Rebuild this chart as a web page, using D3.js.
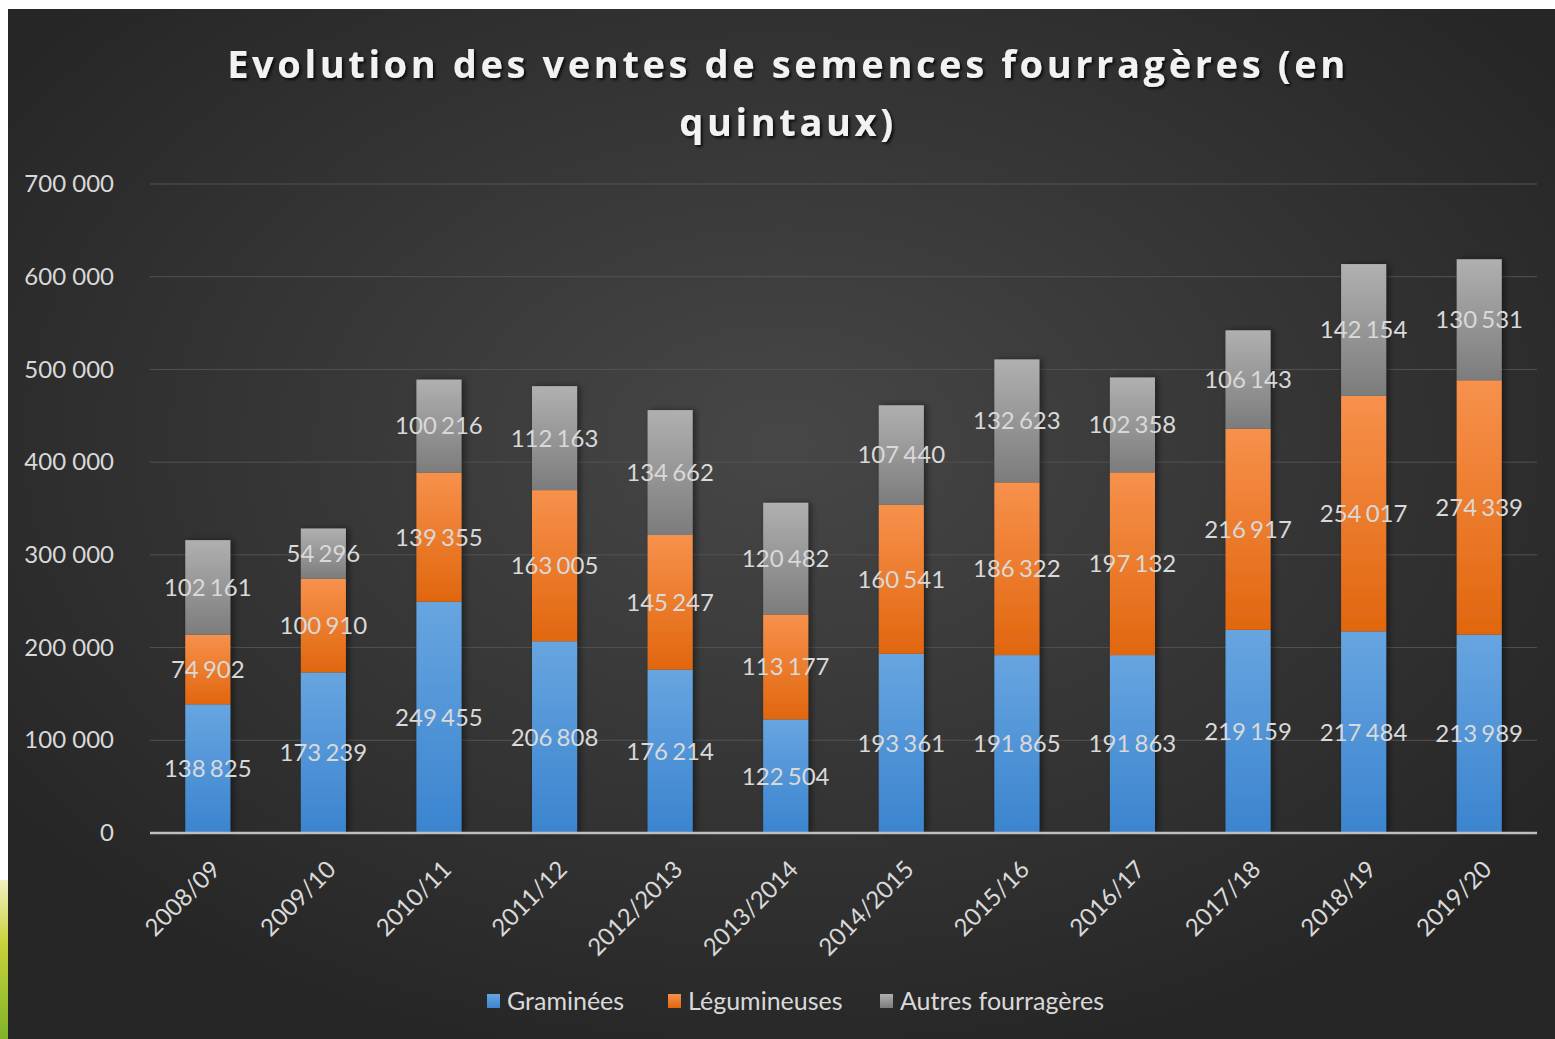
<!DOCTYPE html>
<html>
<head>
<meta charset="utf-8">
<script src="https://cdn.jsdelivr.net/npm/d3@7"></script>
<style>
  body { margin: 0; background: #ffffff; }
  #chart { width: 1555px; height: 1039px; }
</style>
</head>
<body>
<div id="chart"></div>
<script>
// Data
var years = ["2008/09", "2009/10", "2010/11", "2011/12", "2012/2013", "2013/2014",
  "2014/2015", "2015/16", "2016/17", "2017/18", "2018/19", "2019/20"];
var graminees = [138825, 173239, 249455, 206808, 176214, 122504, 193361, 191865, 191863, 219159, 217484, 213989];
var legumineuses = [74902, 100910, 139355, 163005, 145247, 113177, 160541, 186322, 197132, 216917, 254017, 274339];
var autres = [102161, 54296, 100216, 112163, 134662, 120482, 107440, 132623, 102358, 106143, 142154, 130531];
var seriesNames = ["Graminées", "Légumineuses", "Autres fourragères"];
var yTicks = [0, 100000, 200000, 300000, 400000, 500000, 600000, 700000];
var titleLines = ["Evolution des ventes de semences fourragères (en", "quintaux)"];

var width = 1555;
var height = 1039;

// plot area
var plotLeft = 150;
var plotRight = 1537;
var plotTop = 184;
var plotBottom = 833;

var labelFont = "Lato, 'Open Sans', sans-serif";

var svg = d3.select("#chart").append("svg")
  .attr("width", width)
  .attr("height", height);

var defs = svg.append("defs");

// background radial gradient
var bg = defs.append("radialGradient").attr("id", "bgGrad")
  .attr("cx", "0.5").attr("cy", "0.42").attr("r", "0.62");
bg.append("stop").attr("offset", "0%").attr("stop-color", "#474747");
bg.append("stop").attr("offset", "100%").attr("stop-color", "#262626");

// grass corner
var grass = defs.append("linearGradient").attr("id", "grassGrad")
  .attr("x1", 0).attr("y1", 0).attr("x2", 0).attr("y2", 1);
grass.append("stop").attr("offset", "0%").attr("stop-color", "#f4f0c0");
grass.append("stop").attr("offset", "40%").attr("stop-color", "#c9d23a");
grass.append("stop").attr("offset", "100%").attr("stop-color", "#7fb32a");

// bar gradients: lighter on top, darker at bottom
var colors = [
  ["#67a5e0", "#3b84cf"],
  ["#f7914c", "#e1660e"],
  ["#b0b0b0", "#7c7c7c"]
];
colors.forEach(function(c, i) {
  var g = defs.append("linearGradient").attr("id", "barGrad" + i)
    .attr("x1", 0).attr("y1", 0).attr("x2", 0).attr("y2", 1);
  g.append("stop").attr("offset", "0%").attr("stop-color", c[0]);
  g.append("stop").attr("offset", "100%").attr("stop-color", c[1]);
});

var shadow = defs.append("filter").attr("id", "barShadow")
  .attr("x", "-30%").attr("y", "-5%").attr("width", "160%").attr("height", "110%");
shadow.append("feDropShadow").attr("dx", 3).attr("dy", 0).attr("stdDeviation", 3)
  .attr("flood-color", "#000").attr("flood-opacity", 0.45);

var titleShadow = defs.append("filter").attr("id", "titleShadow")
  .attr("x", "-5%").attr("y", "-30%").attr("width", "110%").attr("height", "160%");
titleShadow.append("feDropShadow").attr("dx", 2).attr("dy", 2).attr("stdDeviation", 1.5)
  .attr("flood-color", "#000").attr("flood-opacity", 0.8);

// white page + dark chart box
svg.append("rect").attr("width", width).attr("height", height).attr("fill", "#ffffff");
svg.append("rect").attr("x", 8).attr("y", 9).attr("width", width - 8).attr("height", height - 9)
  .attr("fill", "url(#bgGrad)");
svg.append("rect").attr("x", 0).attr("y", 880).attr("width", 8).attr("height", 159)
  .attr("fill", "url(#grassGrad)");

// Scales
var X_Scale = d3.scaleBand()
  .domain(years)
  .range([plotLeft, plotRight])
  .paddingInner(0.61)
  .paddingOuter(0.305);

var Y_Scale = d3.scaleLinear()
  .domain([0, 700000])
  .range([plotBottom, plotTop]);

var fmt = function(v) {
  return d3.format(",")(v).replace(/,/g, " ");
};

// gridlines
svg.append("g").attr("class", "grid")
  .selectAll("line").data(yTicks.slice(1)).enter()
  .append("line")
  .attr("x1", plotLeft).attr("x2", plotRight)
  .attr("y1", function(d) { return Y_Scale(d); })
  .attr("y2", function(d) { return Y_Scale(d); })
  .attr("stroke", "#535353").attr("stroke-width", 1);

// Y axis labels
var y_Axis = d3.axisLeft(Y_Scale).tickValues(yTicks).tickFormat(fmt).tickSize(0).tickPadding(0);
var yG = svg.append("g")
  .attr("transform", "translate(114,0)")
  .call(y_Axis);
yG.select(".domain").remove();
yG.selectAll("text")
  .attr("fill", "#d9d9d9")
  .style("font-size", "24px")
  .style("font-family", labelFont);

// stack data
var rows = years.map(function(y, i) {
  return { year: y, g: graminees[i], l: legumineuses[i], a: autres[i] };
});
var stack = d3.stack().keys(["g", "l", "a"]);
var stacked = stack(rows);

var barGroup = svg.append("g").attr("filter", "url(#barShadow)");
stacked.forEach(function(layer, si) {
  barGroup.append("g")
    .selectAll("rect").data(layer).enter()
    .append("rect")
    .attr("x", function(d) { return X_Scale(d.data.year); })
    .attr("width", X_Scale.bandwidth())
    .attr("y", function(d) { return Y_Scale(d[1]); })
    .attr("height", function(d) { return Y_Scale(d[0]) - Y_Scale(d[1]); })
    .attr("fill", "url(#barGrad" + si + ")");
});

// value labels
stacked.forEach(function(layer) {
  svg.append("g")
    .selectAll("text").data(layer).enter()
    .append("text")
    .attr("x", function(d) { return X_Scale(d.data.year) + X_Scale.bandwidth() / 2; })
    .attr("y", function(d) { return (Y_Scale(d[0]) + Y_Scale(d[1])) / 2; })
    .attr("dy", "0.35em")
    .attr("text-anchor", "middle")
    .style("font-family", labelFont)
    .style("font-size", "24px")
    .style("word-spacing", "-2px")
    .attr("fill", "#d9d9d9")
    .text(function(d) { return fmt(d[1] - d[0]); });
});

// x axis line
svg.append("line")
  .attr("x1", plotLeft).attr("x2", plotRight)
  .attr("y1", plotBottom).attr("y2", plotBottom)
  .attr("stroke", "#bfbfbf").attr("stroke-width", 2.5);

// x labels, rotated
svg.append("g")
  .selectAll("text").data(years).enter()
  .append("text")
  .attr("transform", function(d) {
    var cx = X_Scale(d) + X_Scale.bandwidth() / 2;
    return "translate(" + (cx + 8) + "," + 865 + ")rotate(-45)";
  })
  .attr("text-anchor", "end")
  .attr("dy", "0.35em")
  .style("font-family", labelFont)
  .style("font-size", "24px")
  .attr("fill", "#d9d9d9")
  .text(function(d) { return d; });

// title
var titleG = svg.append("g").attr("filter", "url(#titleShadow)");
var t1 = titleG.append("text")
  .attr("x", 788).attr("y", 78)
  .attr("text-anchor", "middle")
  .style("font-family", "'Open Sans', sans-serif")
  .style("font-weight", "bold")
  .style("font-size", "38px")
  .attr("fill", "#f2f2f2")
  .text(titleLines[0]);
var natural = t1.node().getComputedTextLength();
var spacing = Math.max(0, (1118 - natural) / (titleLines[0].length - 1));
t1.style("letter-spacing", spacing + "px");
titleG.append("text")
  .attr("x", 788).attr("y", 136)
  .attr("text-anchor", "middle")
  .style("font-family", "'Open Sans', sans-serif")
  .style("font-weight", "bold")
  .style("font-size", "38px")
  .style("letter-spacing", spacing + "px")
  .attr("fill", "#f2f2f2")
  .text(titleLines[1]);

// legend
var legendX = [487, 668, 880];
var legend = svg.append("g").selectAll("g").data(seriesNames).enter()
  .append("g")
  .attr("transform", function(d, i) { return "translate(" + legendX[i] + ",1001)"; });
legend.append("rect")
  .attr("x", 0).attr("y", -7).attr("width", 13).attr("height", 14)
  .attr("fill", function(d, i) { return "url(#barGrad" + i + ")"; });
legend.append("text")
  .attr("x", 20).attr("dy", "0.35em")
  .style("font-family", labelFont)
  .style("font-size", "25px")
  .attr("fill", "#d9d9d9")
  .text(function(d) { return d; });
</script>
</body>
</html>
